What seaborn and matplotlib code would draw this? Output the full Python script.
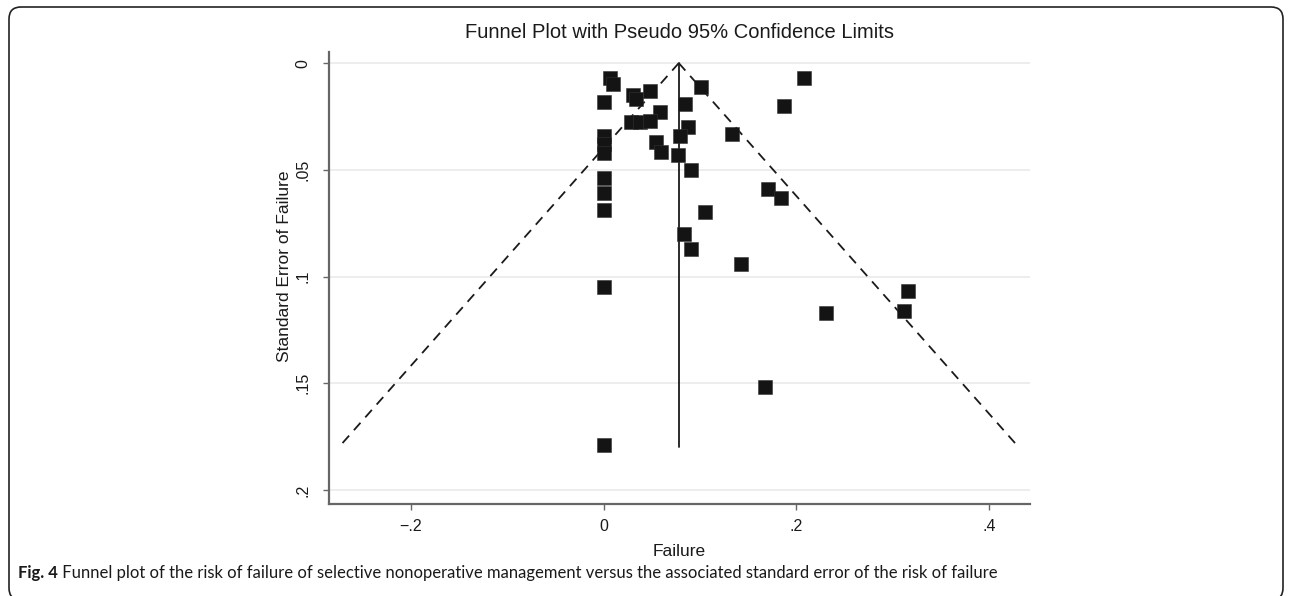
import numpy as np
import pandas as pd
import matplotlib
matplotlib.use("Agg")
import matplotlib.pyplot as plt
from matplotlib.patches import FancyBboxPatch
import seaborn as sns

# ---- data ----
failure = [0.007, 0.010, 0.000, 0.031, 0.034, 0.048, 0.058, 0.028, 0.038, 0.048,
           0.000, 0.000, 0.000, 0.054, 0.060, 0.084, 0.088, 0.079, 0.077, 0.101,
           0.133, 0.091, 0.000, 0.000, 0.000, 0.105, 0.083, 0.091, 0.000, 0.231,
           0.167, 0.000, 0.143, 0.208, 0.187, 0.171, 0.184, 0.316, 0.312]
se_failure = [0.007, 0.010, 0.018, 0.015, 0.017, 0.013, 0.023, 0.0275, 0.0275, 0.027,
              0.034, 0.038, 0.042, 0.037, 0.0415, 0.019, 0.030, 0.034, 0.043, 0.011,
              0.033, 0.050, 0.054, 0.061, 0.069, 0.070, 0.080, 0.087, 0.105, 0.117,
              0.152, 0.179, 0.094, 0.007, 0.020, 0.059, 0.063, 0.107, 0.116]
pooled_estimate = 0.078
max_se = 0.18
z95 = 1.96

x_ticks = [-0.2, 0.0, 0.2, 0.4]
x_tick_labels = ["\u2212.2", "0", ".2", ".4"]
y_ticks = [0.0, 0.05, 0.1, 0.15, 0.2]
y_tick_labels = ["0", ".05", ".1", ".15", ".2"]

title = "Funnel Plot with Pseudo 95% Confidence Limits"
x_label = "Failure"
y_label = "Standard Error of Failure"
caption_bold = "Fig. 4"
caption_text = (" Funnel plot of the risk of failure of selective nonoperative management "
                "versus the associated standard error of the risk of failure")

df = pd.DataFrame({"Failure": failure, "SE": se_failure})

# ---- styling ----
sns.set_theme(style="white")
plt.rcParams["font.family"] = ["Liberation Sans", "DejaVu Sans"]

W, H = 1290, 596
fig = plt.figure(figsize=(W / 100, H / 100), dpi=100)
fig.patch.set_facecolor("white")

# axes placement in pixels (from top)
ax_l, ax_r, ax_t, ax_b = 329, 1030, 52, 504
ax = fig.add_axes([ax_l / W, 1 - ax_b / H, (ax_r - ax_l) / W, (ax_b - ax_t) / H])
ax.set_facecolor("white")

# gridlines
for yt in y_ticks:
    ax.axhline(yt, color="#ececec", lw=1.3, zorder=0)

# funnel lines
se_line = np.array([0.0, max_se])
ax.plot([pooled_estimate, pooled_estimate], se_line, color="#1a1a1a", lw=1.3, zorder=2)
ax.plot(pooled_estimate - z95 * se_line, se_line, color="#1a1a1a", lw=1.3,
        dashes=(5.5, 4), zorder=2)
ax.plot(pooled_estimate + z95 * se_line, se_line, color="#1a1a1a", lw=1.3,
        dashes=(5.5, 4), zorder=2)

sns.scatterplot(data=df, x="Failure", y="SE", marker="s", s=92, color="#141414",
                edgecolor="#333333", linewidth=0.4, ax=ax, zorder=3, legend=False)

ax.set_xlim(-0.285, 0.4425)
ax.set_ylim(0.2066, -0.0052)

ax.set_xticks(x_ticks)
ax.set_xticklabels(x_tick_labels)
ax.set_yticks(y_ticks)
ax.set_yticklabels(y_tick_labels, rotation=90, va="center")

for side in ["top", "right"]:
    ax.spines[side].set_visible(False)
for side in ["left", "bottom"]:
    ax.spines[side].set_color("#666666")
    ax.spines[side].set_linewidth(1.6)

ax.tick_params(axis="both", which="major", length=4.5, width=1.0, color="#666666",
               labelsize=11.5, labelcolor="#1a1a1a", direction="out")
ax.tick_params(axis="x", pad=6)
ax.tick_params(axis="y", pad=9)
ax.tick_params(axis="both", bottom=True, left=True)

ax.set_xlabel(x_label, fontsize=12.5, color="#1a1a1a", va="center")
ax.set_ylabel(y_label, fontsize=12.5, color="#1a1a1a", va="center")
ax.xaxis.set_label_coords(0.5, (ax_b - 552) / (ax_b - ax_t))
ax.yaxis.set_label_coords((285 - ax_l) / (ax_r - ax_l), (ax_b - 266) / (ax_b - ax_t))

fig.text(((ax_l + ax_r) / 2) / W, 1 - 33 / H, title, ha="center", va="center",
         fontsize=14.5, color="#1a1a1a")

# outer rounded frame
frame = FancyBboxPatch((9, -4), 1274, H - 7 + 4, boxstyle="round,pad=0,rounding_size=12",
                       transform=None, fill=False, edgecolor="#222222", lw=1.2)
fig.add_artist(frame)

# caption
cap_y = 1 - 573 / H
t1 = fig.text(18 / W, cap_y, caption_bold, ha="left", va="center", fontsize=12,
              fontweight="bold", family=["Lato", "DejaVu Sans"], color="#1a1a1a")
fig.canvas.draw()
bb = t1.get_window_extent(renderer=fig.canvas.get_renderer())
fig.text(bb.x1 / W, cap_y, caption_text, ha="left", va="center", fontsize=12,
         family=["Lato", "DejaVu Sans"], color="#1a1a1a")

fig.savefig("out.png", dpi=100, facecolor="white")
